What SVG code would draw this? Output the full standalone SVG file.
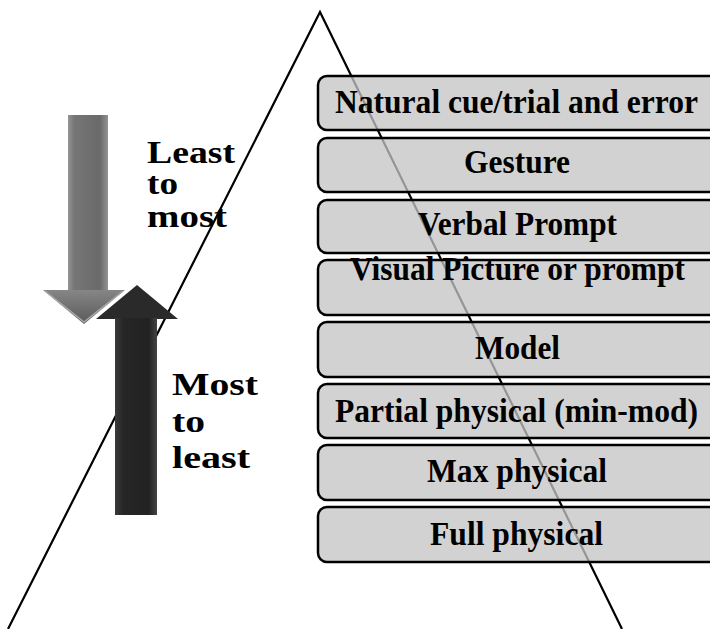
<svg xmlns="http://www.w3.org/2000/svg" width="710" height="629" viewBox="0 0 710 629">
<defs>
<style>
.box{fill:#c4c4c4;fill-opacity:0.76;stroke:#000;stroke-width:2.5}
.lbl{font-family:"Liberation Serif","Times New Roman",serif;font-weight:bold;font-size:33px;fill:#000}
.side{font-family:"Liberation Serif","Times New Roman",serif;font-weight:bold;font-size:31.5px;fill:#000}
.tri{fill:none;stroke:#000;stroke-width:2.2}
</style>
<linearGradient id="gShaft" x1="0" y1="0" x2="1" y2="0">
<stop offset="0" stop-color="#959595"/>
<stop offset="0.15" stop-color="#767676"/>
<stop offset="0.8" stop-color="#6a6a6a"/>
<stop offset="1" stop-color="#939393"/>
</linearGradient>
<linearGradient id="gHead" x1="0" y1="0" x2="0" y2="1">
<stop offset="0" stop-color="#868686"/>
<stop offset="1" stop-color="#5a5a5a"/>
</linearGradient>
<linearGradient id="dShaft" x1="0" y1="0" x2="1" y2="0">
<stop offset="0" stop-color="#3a3a3a"/>
<stop offset="0.2" stop-color="#262626"/>
<stop offset="0.8" stop-color="#222"/>
<stop offset="1" stop-color="#444"/>
</linearGradient>
</defs>
<rect width="710" height="629" fill="#fff"/>
<g id="triangle">
<polyline class="tri" points="8,629 320,12 622,629"/>
</g>
<g id="arrow-down">
<rect x="68" y="115" width="40" height="176" fill="url(#gShaft)"/>
<polygon points="43,290 125,290 84,324" fill="url(#gHead)"/>
<polyline points="45,291 84,322 123,291" fill="none" stroke="#a8a8a8" stroke-width="1.5"/>
</g>
<g id="arrow-up">
<polygon points="137,285 178,319 96,319" fill="#2a2a2a"/>
<rect x="115" y="318" width="42" height="197" fill="url(#dShaft)"/>
</g>
<g id="label-least">
<text class="side" x="147" y="163" textLength="88" lengthAdjust="spacingAndGlyphs">Least</text>
<text class="side" x="147" y="194" textLength="31" lengthAdjust="spacingAndGlyphs">to</text>
<text class="side" x="147" y="227" textLength="80" lengthAdjust="spacingAndGlyphs">most</text>
</g>
<g id="label-most">
<text class="side" x="172" y="395" textLength="86" lengthAdjust="spacingAndGlyphs">Most</text>
<text class="side" x="172" y="432" textLength="33" lengthAdjust="spacingAndGlyphs">to</text>
<text class="side" x="172" y="468" textLength="78" lengthAdjust="spacingAndGlyphs">least</text>
</g>
<g id="n1"><rect class="box" x="318" y="76" width="410" height="54" rx="9"/><text class="lbl" x="335" y="113" textLength="363" lengthAdjust="spacingAndGlyphs">Natural cue/trial and error</text></g>
<g id="n2"><rect class="box" x="318" y="138" width="410" height="54" rx="9"/><text class="lbl" x="464" y="173" textLength="106" lengthAdjust="spacingAndGlyphs">Gesture</text></g>
<g id="n3"><rect class="box" x="318" y="200" width="410" height="53" rx="9"/><text class="lbl" x="418" y="235" textLength="199" lengthAdjust="spacingAndGlyphs">Verbal Prompt</text></g>
<g id="n4"><rect class="box" x="318" y="260" width="410" height="55" rx="9"/><text class="lbl" x="350" y="280" textLength="335" lengthAdjust="spacingAndGlyphs">Visual Picture or prompt</text></g>
<g id="n5"><rect class="box" x="318" y="322" width="410" height="55" rx="9"/><text class="lbl" x="475" y="359" textLength="85" lengthAdjust="spacingAndGlyphs">Model</text></g>
<g id="n6"><rect class="box" x="318" y="384" width="410" height="54" rx="9"/><text class="lbl" x="335" y="422" textLength="363" lengthAdjust="spacingAndGlyphs">Partial physical (min-mod)</text></g>
<g id="n7"><rect class="box" x="318" y="445" width="410" height="55" rx="9"/><text class="lbl" x="427" y="482" textLength="180" lengthAdjust="spacingAndGlyphs">Max physical</text></g>
<g id="n8"><rect class="box" x="318" y="507" width="410" height="55" rx="9"/><text class="lbl" x="430" y="545" textLength="173" lengthAdjust="spacingAndGlyphs">Full physical</text></g>
</svg>
